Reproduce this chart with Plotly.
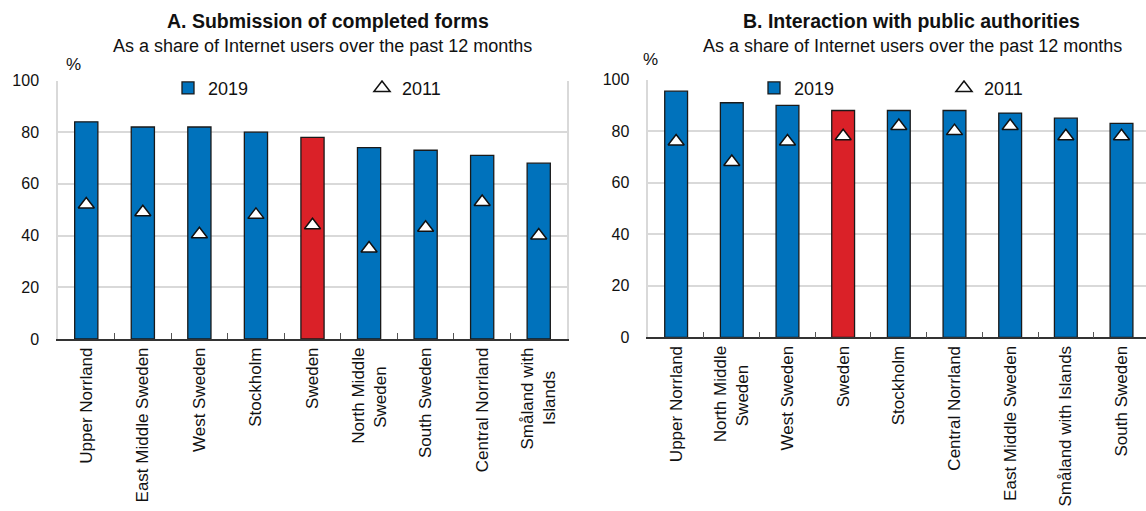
import plotly.graph_objects as go

# Panel A: submission of completed forms (% of Internet users, past 12 months)
REGIONS_A = ["Upper Norrland", "East Middle Sweden", "West Sweden", "Stockholm", "Sweden",
             "North Middle Sweden", "South Sweden", "Central Norrland", "Småland with Islands"]
TICKS_A = ["Upper Norrland", "East Middle Sweden", "West Sweden", "Stockholm", "Sweden",
           "North Middle<br>Sweden\u00a0\u00a0\u00a0\u00a0", "South Sweden", "Central Norrland",
           "Småland with<br>Islands\u00a0\u00a0\u00a0\u00a0\u00a0"]
FORMS_2019 = [84, 82, 82, 80, 78, 74, 73, 71, 68]
FORMS_2011 = [52, 49, 40.5, 48, 44, 35, 43, 53, 40]

# Panel B: interaction with public authorities
REGIONS_B = ["Upper Norrland", "North Middle Sweden", "West Sweden", "Sweden", "Stockholm",
             "Central Norrland", "East Middle Sweden", "Småland with Islands", "South Sweden"]
TICKS_B = ["Upper Norrland", "North Middle<br>Sweden\u00a0\u00a0\u00a0\u00a0", "West Sweden", "Sweden",
           "Stockholm", "Central Norrland", "East Middle Sweden", "Småland with Islands", "South Sweden"]
AUTH_2019 = [95.5, 91, 90, 88, 88, 88, 87, 85, 83]
AUTH_2011 = [76, 68, 76, 78, 82, 80, 82, 78, 78]

Y_TICKS = [0, 20, 40, 60, 80, 100]

BLUE = "#0072BC"
RED = "#DA2128"
GRID = "#D9D9D9"
FONT = "Liberation Sans, Arial, sans-serif"
W, H = 1146, 511


def bar_colors(regions):
    return [RED if r == "Sweden" else BLUE for r in regions]


fig = go.Figure()

panels = [
    ("x", "y", REGIONS_A, FORMS_2019, FORMS_2011, "legend", "legend2"),
    ("x2", "y2", REGIONS_B, AUTH_2019, AUTH_2011, "legend3", "legend4"),
]
for xa, ya, regions, v2019, v2011, leg_bar, leg_tri in panels:
    fig.add_trace(go.Bar(
        x=regions, y=v2019, xaxis=xa, yaxis=ya, name="2019", width=0.41,
        marker=dict(color=bar_colors(regions), line=dict(color="#1A1A1A", width=1.3)),
        legend=leg_bar, hoverinfo="x+y",
    ))
    fig.add_trace(go.Scatter(
        x=regions, y=v2011, xaxis=xa, yaxis=ya, name="2011", mode="markers",
        marker=dict(symbol="triangle-up", size=14, color="white",
                    line=dict(color="#111111", width=1.5)),
        legend=leg_tri, hoverinfo="x+y",
    ))


def xaxis_style(domain, regions, ticks, rng):
    return dict(
        domain=domain, type="category", categoryorder="array", categoryarray=regions,
        range=rng, tickmode="array", tickvals=regions, ticktext=ticks,
        tickangle=-90, ticks="inside", tickson="boundaries", ticklen=6,
        tickcolor="#555555", tickwidth=1.3, showline=True, linecolor="#333333",
        linewidth=1.5, showgrid=False, zeroline=False,
        tickfont=dict(family=FONT, size=17, color="#111111"), fixedrange=True,
    )


def yaxis_style(domain, anchor, mirror):
    return dict(
        domain=domain, anchor=anchor, range=[0, 100], tickmode="array", tickvals=Y_TICKS,
        showgrid=True, gridcolor=GRID, gridwidth=1.5, zeroline=False,
        showline=True, linecolor=GRID, linewidth=1.5, mirror=mirror,
        ticks="outside", ticklen=14, tickcolor="rgba(0,0,0,0)",
        tickfont=dict(family=FONT, size=16, color="#111111"), fixedrange=True,
    )


fig.update_layout(
    width=W, height=H, margin=dict(l=0, r=0, t=0, b=0),
    paper_bgcolor="white", plot_bgcolor="white",
    bargap=0.59, showlegend=True,
    font=dict(family=FONT, color="#111111"),
    xaxis=xaxis_style([58 / W, 567 / W], REGIONS_A, TICKS_A, [-0.5, 8.5]) | dict(anchor="y"),
    yaxis=yaxis_style([(H - 342.3) / H, (H - 75) / H], "x", True),
    xaxis2=xaxis_style([648.3 / W, 1.0], REGIONS_B, TICKS_B, [-0.5, 8.44]) | dict(anchor="y2"),
    yaxis2=yaxis_style([(H - 340.7) / H, (H - 74) / H], "x2", False),
)

legend_common = dict(orientation="h", bgcolor="rgba(0,0,0,0)", borderwidth=0,
                     font=dict(family=FONT, size=18, color="#111111"),
                     yanchor="middle", xanchor="left", y=(H - 83) / H)
fig.update_layout(
    legend=legend_common | dict(x=168 / W),
    legend2=legend_common | dict(x=362 / W),
    legend3=legend_common | dict(x=754 / W),
    legend4=legend_common | dict(x=944 / W),
)

# Panel titles, subtitles and unit labels
annotations = [
    dict(x=328, y=13, text="<b>A. Submission of completed forms</b>", size=19.5),
    dict(x=322, y=39, text="As a share of Internet users over the past 12 months", size=18),
    dict(x=73, y=58, text="%", size=17),
    dict(x=911, y=13, text="<b>B. Interaction with public authorities</b>", size=19.5),
    dict(x=912, y=39, text="As a share of Internet users over the past 12 months", size=18),
    dict(x=650, y=53, text="%", size=17),
]
for a in annotations:
    fig.add_annotation(
        x=a["x"] / W, y=(H - a["y"]) / H, xref="paper", yref="paper",
        xanchor="center", yanchor="middle", showarrow=False, text=a["text"],
        font=dict(family=FONT, size=a["size"], color="#111111"),
    )

fig.write_html("out.html", config=dict(displayModeBar=False))
